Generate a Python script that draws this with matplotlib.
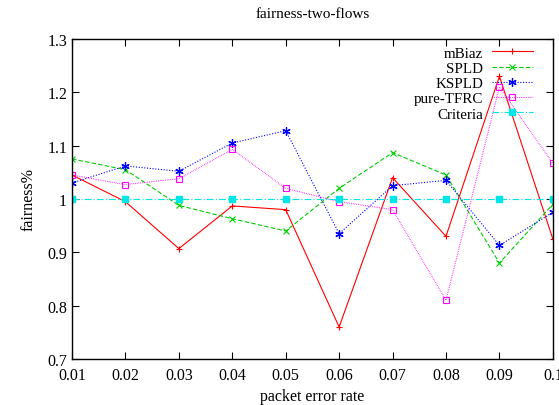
import matplotlib
matplotlib.use("Agg")
from matplotlib import pyplot as plt

plt.rcParams['font.family'] = ['Liberation Serif', 'DejaVu Serif']

per = [0.01, 0.02, 0.03, 0.04, 0.05, 0.06, 0.07, 0.08, 0.09, 0.1]
mbiaz = [1.045, 0.995, 0.907, 0.987, 0.98, 0.76, 1.04, 0.93, 1.23, 0.925]
spld = [1.075, 1.055, 0.988, 0.963, 0.94, 1.02, 1.087, 1.045, 0.88, 0.99]
kspld = [1.03, 1.062, 1.052, 1.105, 1.128, 0.935, 1.025, 1.035, 0.913, 0.975]
pure_tfrc = [1.045, 1.027, 1.038, 1.093, 1.02, 0.995, 0.98, 0.81, 1.21, 1.067]
criteria = [1.0] * 10

x_ticks = per
x_labels = ['0.01', '0.02', '0.03', '0.04', '0.05', '0.06', '0.07', '0.08', '0.09', '0.1']
y_ticks = [0.7, 0.8, 0.9, 1.0, 1.1, 1.2, 1.3]
y_labels = ['0.7', '0.8', '0.9', '1', '1.1', '1.2', '1.3']

fig = plt.figure(figsize=(5.59, 4.06), dpi=100)
ax = fig.add_axes([0.1288, 0.1133, 0.8602, 0.7882])

ax.plot(per, mbiaz, color='#ff0000', lw=0.8, ls='-', marker='+', ms=5, mew=0.8, label='mBiaz')
ax.plot(per, spld, color='#00cc00', lw=0.8, ls=(0, (4, 2)), marker='x', ms=5, mew=0.8, label='SPLD')
ax.plot(per, kspld, color='#0000ff', lw=0.8, ls=(0, (1, 1.5)), marker=(6, 2, 0), ms=6, mew=0.9, label='KSPLD')
ax.plot(per, pure_tfrc, color='#ff00ff', lw=0.8, ls=(0, (0.6, 1)), marker='s', ms=5, mew=0.8,
        fillstyle='none', label='pure-TFRC')
ax.plot(per, criteria, color='#00e5e5', lw=0.8, ls=(0, (6, 2, 1, 2)), marker='s', ms=5,
        label='Criteria')

ax.set_xlim(0.01, 0.1)
ax.set_ylim(0.7, 1.3)
ax.set_xticks(x_ticks)
ax.set_xticklabels(x_labels)
ax.set_yticks(y_ticks)
ax.set_yticklabels(y_labels)
ax.tick_params(direction='in', top=True, right=True, length=5, labelsize=11.5, width=0.8)
ax.tick_params(axis='x', pad=6)
for s in ax.spines.values():
    s.set_linewidth(1.0)

ax.set_title('fairness-two-flows', fontsize=11, pad=16)
ax.set_xlabel('packet error rate', fontsize=11.5, labelpad=3)
ax.set_ylabel('fairness%', fontsize=11.5, labelpad=8)

ax.legend(loc='upper right', bbox_to_anchor=(0.958, 0.978), frameon=False, markerfirst=False,
          fontsize=10.8, handlelength=2.7, labelspacing=0.12, borderpad=0, borderaxespad=0,
          handletextpad=0.6)

fig.savefig('out.png', dpi=100)
